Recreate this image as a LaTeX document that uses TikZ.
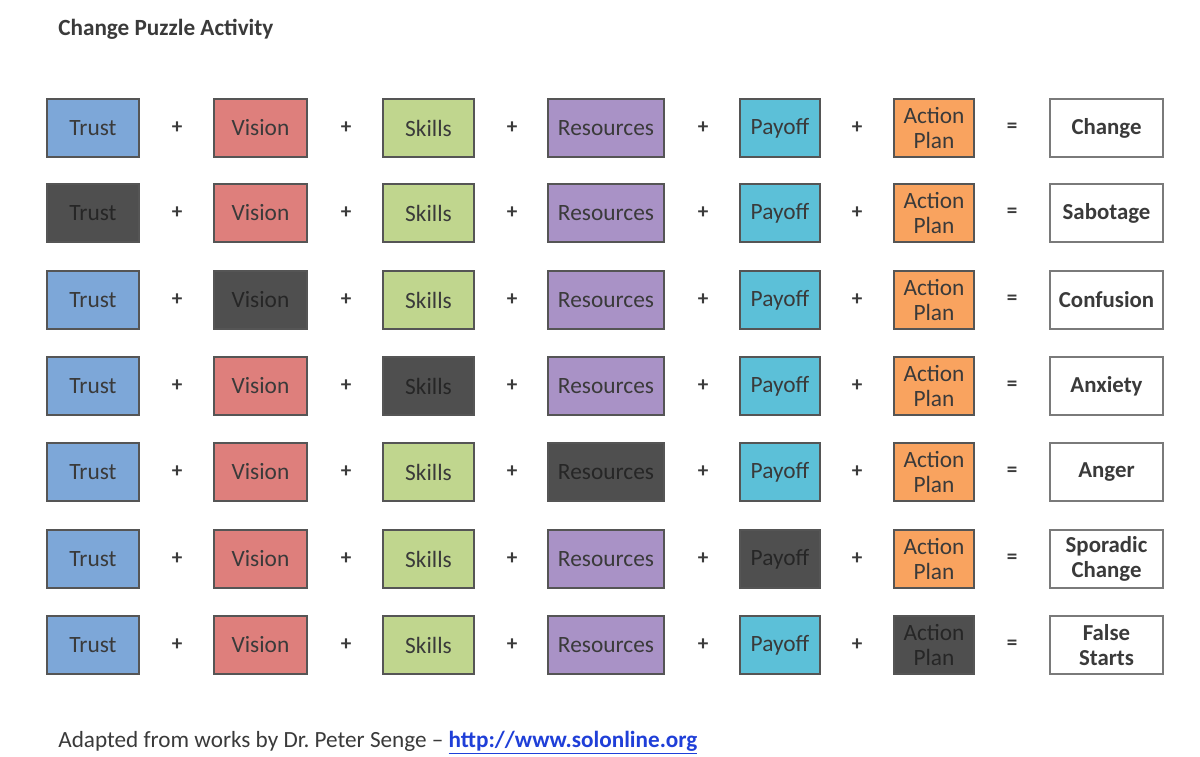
\documentclass[tikz,border=0pt]{standalone}
\usepackage{fontspec}
\setmainfont{Carlito}
\definecolor{ctrust}{HTML}{7DA7D8}
\definecolor{cvision}{HTML}{DE7F7C}
\definecolor{cskills}{HTML}{C0D68E}
\definecolor{cres}{HTML}{A992C6}
\definecolor{cpay}{HTML}{5CC0D8}
\definecolor{cact}{HTML}{F9A35F}
\definecolor{cdark}{HTML}{4F4F4F}
\definecolor{cborder}{HTML}{555555}
\definecolor{cresborder}{HTML}{7A7A7A}
\definecolor{ctext}{HTML}{3A3A3A}
\definecolor{clink}{HTML}{1F3FD8}
\tikzset{
  box/.style={draw=cborder, line width=1.6pt, minimum height=58*0.02cm, inner sep=0pt, text=ctext, font=\fontsize{13.3}{14.4}\selectfont, align=center},
  darkbox/.style={fill=cdark, text=black!85},
  resbox/.style={box, draw=cresborder, fill=white, font=\fontsize{13}{14.2}\selectfont\bfseries},
  op/.style={text=ctext, font=\fontsize{12}{13}\selectfont\bfseries},
}
\begin{document}
\begin{tikzpicture}[x=0.02cm, y=-0.02cm]
\useasboundingbox (0,0) rectangle (1200,757);
\fill[white] (0,0) rectangle (1200,757);
\node[anchor=west, inner sep=0pt, text=ctext, font=\fontsize{13.2}{14}\selectfont\bfseries] (title) at (58,29) {Change Puzzle Activity};
\foreach \r/\yc/\dk/\res in {1/128/0/Change, 2/213/1/Sabotage, 3/300/2/Confusion, 4/386/3/Anxiety, 5/472/4/Anger, 6/559/5/Sporadic\\Change, 7/645/6/False\\Starts}{
  \foreach \c/\l/\rt/\col/\txt in {1/47/139/ctrust/Trust, 2/214/307/cvision/Vision, 3/383/474/cskills/Skills, 4/548/664/cres/Resources, 5/740/820/cpay/Payoff, 6/894/974/cact/Action\\Plan}{
    \pgfmathtruncatemacro{\isdark}{\c==\dk ? 1 : 0}
    \ifnum\isdark=1
      \node[box, fill=\col, darkbox, minimum width=(\rt-\l)*0.02cm] (r\r c\c) at ({(\l+\rt)/2},\yc) {\txt};
    \else
      \node[box, fill=\col, minimum width=(\rt-\l)*0.02cm] (r\r c\c) at ({(\l+\rt)/2},\yc) {\txt};
    \fi
  }
  \node[resbox, minimum width=113*0.02cm] (r\r res) at (1106.5,\yc) {\res};
  \foreach \o/\ox in {1/177, 2/346, 3/512, 4/703, 5/857}{
    \node[op] (r\r p\o) at (\ox,\yc) {+};
  }
  \node[op] (r\r eq) at (1012,\yc) {=};
}
\node[anchor=west, inner sep=0pt, text=ctext, font=\fontsize{13.2}{14}\selectfont] (foot) at (58,743) {Adapted from works by Dr.\ Peter Senge -- \textcolor{clink}{\bfseries\underline{http://www.solonline.org}}};
\end{tikzpicture}
\end{document}
